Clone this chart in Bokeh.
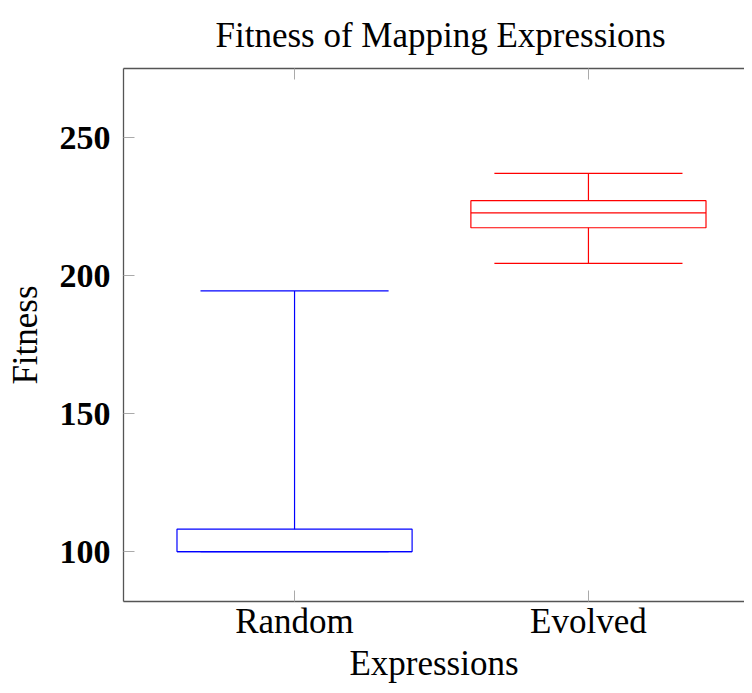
from bokeh.plotting import figure
from bokeh.models import ColumnDataSource, FixedTicker, LinearAxis, Range1d
from bokeh.embed import file_html
from bokeh.resources import INLINE

# ---- data ----
title_text = "Fitness of Mapping Expressions"
categories = ["Random", "Evolved"]
lower_whisker = [100.0, 204.4]
q1 = [100.0, 217.3]
median = [100.0, 222.7]
q3 = [108.1, 227.1]
upper_whisker = [194.4, 237.0]
colors = ["#0000ff", "#ff0000"]
y_ticks = [100, 150, 200, 250]

FONT = "Liberation Serif"
FS = "35px"
BOX_W = 0.8
CAP_W = 0.64

pos = [i + 1 for i in range(len(categories))]
src = ColumnDataSource(dict(
    x=pos,
    left=[p - BOX_W / 2 for p in pos],
    right=[p + BOX_W / 2 for p in pos],
    cl=[p - CAP_W / 2 for p in pos],
    cr=[p + CAP_W / 2 for p in pos],
    lw=lower_whisker, q1=q1, med=median, q3=q3, uw=upper_whisker,
    color=colors,
))

p = figure(width=744, height=685, output_backend="svg", toolbar_location=None,
           x_range=Range1d(0.418, 2.531), y_range=Range1d(81.9, 275.0),
           min_border_left=123, min_border_top=68, min_border_bottom=84,
           min_border_right=0, title=title_text)
p.outline_line_color = None
p.xgrid.visible = False
p.ygrid.visible = False
p.background_fill_color = "white"
p.border_fill_color = "white"

p.title.text_font = FONT
p.title.text_font_size = FS
p.title.text_font_style = "normal"
p.title.text_color = "black"
p.title.align = "left"
p.title.offset = 92
p.title.text_line_height = 0.6
p.title.standoff = 27

AX_COL = "#555555"
TK_COL = "#aaaaaa"

for ax in (p.xaxis[0], p.yaxis[0]):
    ax.axis_line_color = AX_COL
    ax.axis_line_width = 1.3
    ax.major_tick_in = 11
    ax.major_tick_out = 0
    ax.major_tick_line_color = TK_COL
    ax.minor_tick_line_color = None
    ax.major_label_text_font = FONT
    ax.major_label_text_font_size = FS
    ax.major_label_text_color = "black"
    ax.axis_label_text_font = FONT
    ax.axis_label_text_font_size = FS
    ax.axis_label_text_font_style = "normal"
    ax.axis_label_text_color = "black"

p.xaxis[0].ticker = FixedTicker(ticks=pos)
p.xaxis[0].major_label_overrides = {x: c for x, c in zip(pos, categories)}
p.xaxis[0].axis_label = "Expressions"
p.xaxis[0].major_label_standoff = 0
p.xaxis[0].axis_label_standoff = 0

p.yaxis[0].ticker = FixedTicker(ticks=y_ticks)
p.yaxis[0].major_label_text_font_style = "bold"
p.yaxis[0].major_label_text_font_size = "34px"
p.yaxis[0].axis_label = "Fitness"
p.yaxis[0].major_label_standoff = 13
p.yaxis[0].axis_label_standoff = 12

top = LinearAxis(ticker=FixedTicker(ticks=pos),
                 major_label_overrides={x: "" for x in pos},
                 axis_line_color=AX_COL, axis_line_width=1.3,
                 major_tick_in=11, major_tick_out=0, major_tick_line_color=TK_COL,
                 minor_tick_line_color=None, major_label_standoff=0)
p.add_layout(top, "above")

# whiskers
p.segment(x0="x", y0="q3", x1="x", y1="uw", line_color="color", line_width=1.2, source=src)
p.segment(x0="x", y0="lw", x1="x", y1="q1", line_color="color", line_width=1.2, source=src)
p.segment(x0="cl", y0="uw", x1="cr", y1="uw", line_color="color", line_width=1.2, source=src)
p.segment(x0="cl", y0="lw", x1="cr", y1="lw", line_color="color", line_width=1.2, source=src)
# boxes
p.quad(left="left", right="right", bottom="q1", top="q3", fill_color=None,
       line_color="color", line_width=1.2, source=src)
p.segment(x0="left", y0="med", x1="right", y1="med", line_color="color", line_width=1.2, source=src)

open("out.html", "w").write(file_html(p, INLINE))
